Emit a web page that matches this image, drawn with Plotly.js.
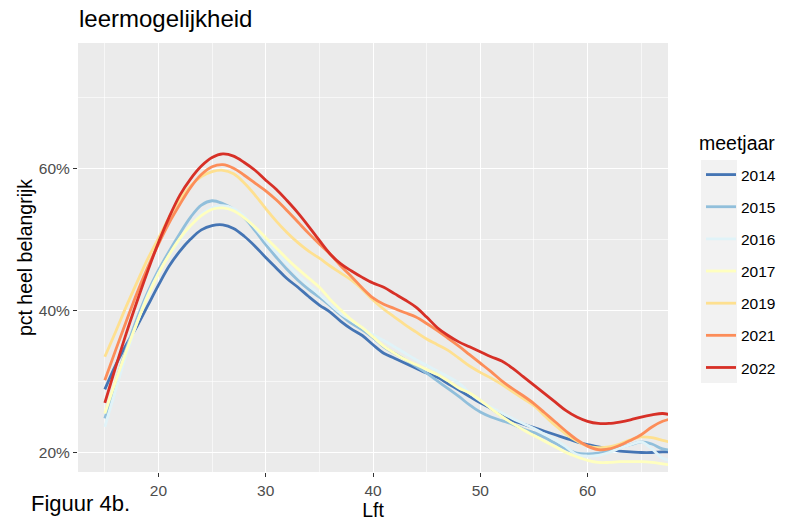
<!DOCTYPE html>
<html>
<head>
<meta charset="utf-8">
<script src="https://cdn.plot.ly/plotly-3.0.1.min.js"></script>
<style>
html,body{margin:0;padding:0;background:#fff;}
#chart{width:786px;height:523px;}
</style>
</head>
<body>
<div id="chart"></div>
<script>
// Leeftijd (Lft) 15..68
var ages = [];
for (var a = 15; a <= 68; a++) ages.push(a);

var years = ["2014", "2015", "2016", "2017", "2019", "2021", "2022"];
var colors = ["#4575B4", "#91BFDB", "#E0F3F8", "#FFFFBF", "#FEE090", "#FC8D59", "#D73027"];

// pct heel belangrijk, per meetjaar
var y2014 = [28.9,32.3,35.2,37.8,40.7,43.6,46.3,48.4,50.1,51.4,52.0,52.1,51.6,50.5,49.1,47.5,46.0,44.5,43.3,42.0,40.8,39.8,38.5,37.4,36.5,35.2,34.0,33.3,32.6,31.9,31.2,30.6,29.7,28.8,27.9,27.0,26.2,25.2,24.5,24.0,23.5,23.0,22.5,22.0,21.5,21.1,20.8,20.5,20.2,20.1,20.0,20.0,20.1,20.1];
var y2015 = [24.8,29.8,34.6,38.9,42.6,45.7,48.4,50.9,53.2,54.9,55.5,55.1,54.3,53.1,51.3,49.3,47.5,45.8,44.3,43.0,41.9,40.7,39.4,38.2,37.3,36.2,34.9,34.0,33.1,32.2,31.2,30.1,29.0,27.9,26.7,25.7,25.0,24.5,24.0,23.3,22.8,22.1,21.3,20.5,19.9,19.8,19.9,20.2,20.7,21.1,21.5,21.2,20.5,20.3];
var y2016 = [23.6,28.8,33.8,38.3,42.2,45.3,47.8,50.0,52.0,53.6,54.5,54.8,54.4,53.3,51.7,49.9,48.2,46.6,45.0,43.6,42.3,40.9,39.6,38.6,37.6,36.6,35.8,34.9,34.0,33.1,32.3,31.5,30.7,29.8,28.4,27.3,26.4,25.6,24.8,24.1,23.4,22.6,21.8,20.8,19.7,19.5,19.6,20.0,20.6,21.1,21.5,20.5,19.2,18.8];
var y2017 = [25.5,30.0,34.3,38.3,42.0,45.2,47.9,50.2,52.0,53.4,54.3,54.5,54.1,53.1,51.8,50.3,48.8,47.3,45.9,44.6,43.3,41.6,40.1,38.7,37.6,36.3,35.0,34.0,33.1,32.4,31.7,31.0,30.1,29.1,28.4,27.4,26.2,25.1,24.1,23.2,22.4,21.6,20.8,20.0,19.4,18.9,18.6,18.6,18.7,18.7,18.7,18.6,18.4,18.2];
var y2019 = [33.5,37.0,40.6,44.0,47.3,50.2,53.2,55.7,57.6,58.9,59.6,59.8,59.3,58.0,56.3,54.4,52.6,51.0,49.6,48.4,47.4,46.3,45.3,44.3,43.0,41.5,40.2,39.1,38.0,37.0,36.0,35.2,34.4,33.3,32.2,31.3,30.5,29.6,28.6,27.6,26.6,25.2,23.8,22.6,21.6,20.9,20.7,20.8,21.2,21.8,22.2,22.1,21.7,21.4];
var y2021 = [30.2,34.4,38.5,42.5,46.1,49.4,52.4,55.0,57.4,59.2,60.3,60.6,60.1,59.1,58.0,56.9,55.6,54.1,52.5,50.9,49.4,48.0,46.3,44.8,43.2,41.8,40.9,40.3,39.7,39.1,38.2,37.2,36.1,35.0,33.8,32.6,31.4,30.1,29.0,28.0,26.9,25.6,24.3,23.0,21.8,20.9,20.4,20.5,21.0,21.7,22.5,23.6,24.4,24.8];
var y2022 = [27.0,32.0,36.8,41.3,45.6,49.6,53.2,56.3,58.6,60.4,61.6,62.1,61.8,60.9,59.8,58.4,57.1,55.5,53.8,51.9,49.9,48.0,46.6,45.6,44.7,43.9,43.3,42.4,41.5,40.5,39.1,37.6,36.5,35.6,34.9,34.2,33.5,32.9,31.9,30.7,29.5,28.3,27.1,25.9,25.0,24.4,24.1,24.1,24.3,24.6,25.0,25.3,25.5,25.2];

var series = [y2014, y2015, y2016, y2017, y2019, y2021, y2022];

var xTicks = [20, 30, 40, 50, 60];
var xMinor = [15, 25, 35, 45, 55, 65];
var yTicks = [20, 40, 60];
var yMinor = [30, 50, 70];

var traces = series.map(function (vals, i) {
  return {
    type: "scatter",
    mode: "lines",
    x: ages,
    y: vals,
    name: years[i],
    legendgroup: years[i],
    line: {color: colors[i], width: 2.8, shape: "spline", smoothing: 1}
  };
});

var W = 786, H = 523, L = 78, R = 118, T = 43, B = 51;
var pw = W - L - R, ph = H - T - B;
function px2x(p) { return (p - L) / pw; }
function py2y(p) { return (H - B - p) / ph; }

var layout = {
  width: W, height: H,
  margin: {l: L, r: R, t: T, b: B, autoexpand: false},
  paper_bgcolor: "#FFFFFF",
  plot_bgcolor: "#EBEBEB",
  font: {family: "Liberation Sans, Arial, sans-serif", color: "#000000"},
  title: {
    text: "leermogelijkheid",
    font: {size: 24, color: "#000000"},
    xref: "container", yref: "container",
    x: 79 / W, xanchor: "left",
    y: 1 - 19 / H, yanchor: "middle"
  },
  xaxis: {
    range: [12.5, 67.5],
    tickvals: xTicks,
    ticktext: xTicks.map(String),
    ticks: "outside", ticklen: 4, tickwidth: 1, tickcolor: "#333333",
    tickfont: {size: 15.5, color: "#4D4D4D"},
    showgrid: true, gridcolor: "#FFFFFF", gridwidth: 1,
    minor: {tickmode: "array", tickvals: xMinor, showgrid: true, gridcolor: "#FFFFFF", gridwidth: 0.6, ticks: ""},
    zeroline: false, showline: false, automargin: false,
    title: {text: "Lft", font: {size: 19.5, color: "#000000"}, standoff: 4}
  },
  yaxis: {
    range: [17.25, 77.75],
    tickvals: yTicks,
    ticktext: yTicks.map(function (v) { return v + "%"; }),
    ticks: "outside", ticklen: 4, tickwidth: 1, tickcolor: "#333333",
    tickfont: {size: 15.5, color: "#4D4D4D"},
    showgrid: true, gridcolor: "#FFFFFF", gridwidth: 1,
    minor: {tickmode: "array", tickvals: yMinor, showgrid: true, gridcolor: "#FFFFFF", gridwidth: 0.6, ticks: ""},
    zeroline: false, showline: false, automargin: false,
    title: {text: "pct heel belangrijk", font: {size: 19.5, color: "#000000"}, standoff: 1}
  },
  legend: {
    x: px2x(701), y: py2y(158), xanchor: "left", yanchor: "top",
    bgcolor: "rgba(0,0,0,0)",
    font: {size: 15.5, color: "#000000"},
    tracegroupgap: 9,
    traceorder: "grouped"
  },
  shapes: [{
    type: "rect", xref: "paper", yref: "paper", layer: "below",
    x0: px2x(701), x1: px2x(737), y0: py2y(383), y1: py2y(160),
    fillcolor: "#F2F2F2", line: {width: 0}
  }],
  annotations: [{
    text: "meetjaar",
    xref: "paper", yref: "paper",
    x: px2x(697), y: py2y(143), xanchor: "left", yanchor: "middle",
    showarrow: false,
    font: {family: "Liberation Sans, Arial, sans-serif", size: 19.5, color: "#000000"}
  }, {
    text: "Figuur 4b.",
    xref: "paper", yref: "paper",
    x: px2x(29), y: py2y(503), xanchor: "left", yanchor: "middle",
    showarrow: false,
    font: {family: "Liberation Sans, Arial, sans-serif", size: 22, color: "#000000"}
  }]
};

Plotly.newPlot("chart", traces, layout, {displayModeBar: false, staticPlot: true});
</script>
</body>
</html>
